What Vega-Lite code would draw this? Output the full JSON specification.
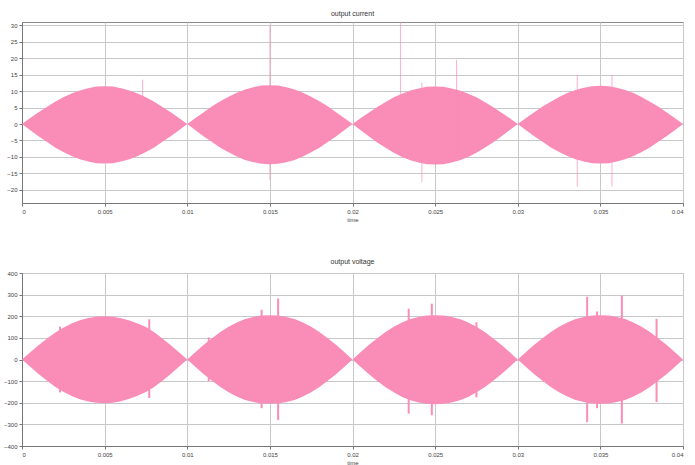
{
  "$schema": "https://vega.github.io/schema/vega-lite/v6.json",
  "autosize": {"type": "pad"},
  "padding": {"left": 2, "top": 9, "right": 10, "bottom": 0},
  "background": "white",
  "bounds": "flush",
  "spacing": 70,
  "config": {
    "font": "Liberation Sans",
    "view": {"stroke": "#888888", "strokeWidth": 1},
    "axis": {"domainColor": "#777777", "gridColor": "#c8c8c8", "tickColor": "#777777", "labelFontSize": 6, "labelColor": "#444444", "titleFontSize": 6, "titleFontWeight": "normal", "titleColor": "#444444", "tickSize": 3, "labelPadding": 2, "labelOverlap": false},
    "title": {"fontSize": 7, "fontWeight": "normal", "color": "#333333", "offset": 5}
  },
  "datasets": {
    "cur": [
      {"t":0,"hi":0,"lo":0},{"t":0.0005,"hi":1.8,"lo":-1.9},{"t":0.001,"hi":3.6,"lo":-3.7},{"t":0.0015,"hi":5.2,"lo":-5.4},{"t":0.002,"hi":6.8,"lo":-7.1},{"t":0.0025,"hi":8.1,"lo":-8.5},{"t":0.003,"hi":9.3,"lo":-9.7},{"t":0.0035,"hi":10.2,"lo":-10.7},{"t":0.004,"hi":10.9,"lo":-11.4},{"t":0.0045,"hi":11.4,"lo":-11.9},{"t":0.005,"hi":11.5,"lo":-12.0},{"t":0.0055,"hi":11.4,"lo":-11.9},{"t":0.006,"hi":10.9,"lo":-11.4},{"t":0.0065,"hi":10.2,"lo":-10.7},{"t":0.007,"hi":9.3,"lo":-9.7},{"t":0.0075,"hi":8.1,"lo":-8.5},{"t":0.008,"hi":6.8,"lo":-7.1},{"t":0.0085,"hi":5.2,"lo":-5.4},{"t":0.009,"hi":3.6,"lo":-3.7},{"t":0.0095,"hi":1.8,"lo":-1.9},
      {"t":0.01,"hi":0,"lo":0},{"t":0.0105,"hi":1.8,"lo":-1.9},{"t":0.011,"hi":3.6,"lo":-3.8},{"t":0.0115,"hi":5.4,"lo":-5.5},{"t":0.012,"hi":6.9,"lo":-7.2},{"t":0.0125,"hi":8.3,"lo":-8.6},{"t":0.013,"hi":9.5,"lo":-9.9},{"t":0.0135,"hi":10.5,"lo":-10.9},{"t":0.014,"hi":11.2,"lo":-11.6},{"t":0.0145,"hi":11.7,"lo":-12.1},{"t":0.015,"hi":11.8,"lo":-12.2},{"t":0.0155,"hi":11.7,"lo":-12.1},{"t":0.016,"hi":11.2,"lo":-11.6},{"t":0.0165,"hi":10.5,"lo":-10.9},{"t":0.017,"hi":9.5,"lo":-9.9},{"t":0.0175,"hi":8.3,"lo":-8.6},{"t":0.018,"hi":6.9,"lo":-7.2},{"t":0.0185,"hi":5.4,"lo":-5.5},{"t":0.019,"hi":3.6,"lo":-3.8},{"t":0.0195,"hi":1.8,"lo":-1.9},
      {"t":0.02,"hi":0,"lo":0},{"t":0.0205,"hi":1.8,"lo":-1.9},{"t":0.021,"hi":3.5,"lo":-3.8},{"t":0.0215,"hi":5.2,"lo":-5.6},{"t":0.022,"hi":6.7,"lo":-7.2},{"t":0.0225,"hi":8.1,"lo":-8.7},{"t":0.023,"hi":9.2,"lo":-10.0},{"t":0.0235,"hi":10.2,"lo":-11.0},{"t":0.024,"hi":10.8,"lo":-11.7},{"t":0.0245,"hi":11.3,"lo":-12.2},{"t":0.025,"hi":11.4,"lo":-12.3},{"t":0.0255,"hi":11.3,"lo":-12.2},{"t":0.026,"hi":10.8,"lo":-11.7},{"t":0.0265,"hi":10.2,"lo":-11.0},{"t":0.027,"hi":9.2,"lo":-10.0},{"t":0.0275,"hi":8.1,"lo":-8.7},{"t":0.028,"hi":6.7,"lo":-7.2},{"t":0.0285,"hi":5.2,"lo":-5.6},{"t":0.029,"hi":3.5,"lo":-3.8},{"t":0.0295,"hi":1.8,"lo":-1.9},
      {"t":0.03,"hi":0,"lo":0},{"t":0.0305,"hi":1.8,"lo":-1.9},{"t":0.031,"hi":3.6,"lo":-3.7},{"t":0.0315,"hi":5.3,"lo":-5.4},{"t":0.032,"hi":6.8,"lo":-7.1},{"t":0.0325,"hi":8.2,"lo":-8.5},{"t":0.033,"hi":9.4,"lo":-9.7},{"t":0.0335,"hi":10.3,"lo":-10.7},{"t":0.034,"hi":11.0,"lo":-11.4},{"t":0.0345,"hi":11.5,"lo":-11.9},{"t":0.035,"hi":11.6,"lo":-12.0},{"t":0.0355,"hi":11.5,"lo":-11.9},{"t":0.036,"hi":11.0,"lo":-11.4},{"t":0.0365,"hi":10.3,"lo":-10.7},{"t":0.037,"hi":9.4,"lo":-9.7},{"t":0.0375,"hi":8.2,"lo":-8.5},{"t":0.038,"hi":6.8,"lo":-7.1},{"t":0.0385,"hi":5.3,"lo":-5.4},{"t":0.039,"hi":3.6,"lo":-3.7},{"t":0.0395,"hi":1.8,"lo":-1.9},{"t":0.04,"hi":0,"lo":0}
    ],
    "curSpikes": [
      {"t":0.0073,"lo":-9,"hi":13.5},
      {"t":0.0150,"lo":-17,"hi":30},
      {"t":0.0229,"lo":-9,"hi":31},
      {"t":0.0242,"lo":-17.6,"hi":12.5},
      {"t":0.0263,"lo":-10,"hi":19.5},
      {"t":0.0336,"lo":-19,"hi":15},
      {"t":0.0357,"lo":-19,"hi":15}
    ],
    "vol": [
      {"t":0,"hi":0,"lo":0},{"t":0.0005,"hi":34,"lo":-34},{"t":0.001,"hi":66,"lo":-67},{"t":0.0015,"hi":96,"lo":-97},{"t":0.002,"hi":124,"lo":-126},{"t":0.0025,"hi":147,"lo":-149},{"t":0.003,"hi":167,"lo":-169},{"t":0.0035,"hi":182,"lo":-184},{"t":0.004,"hi":192,"lo":-194},{"t":0.0045,"hi":198,"lo":-200},{"t":0.005,"hi":200,"lo":-202},{"t":0.0055,"hi":198,"lo":-200},{"t":0.006,"hi":191,"lo":-193},{"t":0.0065,"hi":180,"lo":-182},{"t":0.007,"hi":166,"lo":-168},{"t":0.0075,"hi":150,"lo":-150},{"t":0.008,"hi":126,"lo":-127},{"t":0.0085,"hi":97,"lo":-98},{"t":0.009,"hi":66,"lo":-67},{"t":0.0095,"hi":34,"lo":-34},
      {"t":0.01,"hi":0,"lo":0},{"t":0.0105,"hi":35,"lo":-35},{"t":0.011,"hi":68,"lo":-68},{"t":0.0115,"hi":98,"lo":-98},{"t":0.012,"hi":127,"lo":-127},{"t":0.0125,"hi":151,"lo":-151},{"t":0.013,"hi":171,"lo":-171},{"t":0.0135,"hi":187,"lo":-187},{"t":0.014,"hi":197,"lo":-197},{"t":0.0145,"hi":203,"lo":-203},{"t":0.015,"hi":205,"lo":-205},{"t":0.0155,"hi":203,"lo":-203},{"t":0.016,"hi":197,"lo":-197},{"t":0.0165,"hi":187,"lo":-187},{"t":0.017,"hi":171,"lo":-171},{"t":0.0175,"hi":151,"lo":-151},{"t":0.018,"hi":127,"lo":-127},{"t":0.0185,"hi":98,"lo":-98},{"t":0.019,"hi":68,"lo":-68},{"t":0.0195,"hi":35,"lo":-35},
      {"t":0.02,"hi":0,"lo":0},{"t":0.0205,"hi":35,"lo":-35},{"t":0.021,"hi":68,"lo":-68},{"t":0.0215,"hi":98,"lo":-99},{"t":0.022,"hi":127,"lo":-128},{"t":0.0225,"hi":151,"lo":-152},{"t":0.023,"hi":171,"lo":-173},{"t":0.0235,"hi":187,"lo":-188},{"t":0.024,"hi":197,"lo":-199},{"t":0.0245,"hi":203,"lo":-205},{"t":0.025,"hi":205,"lo":-207},{"t":0.0255,"hi":203,"lo":-205},{"t":0.026,"hi":197,"lo":-199},{"t":0.0265,"hi":187,"lo":-188},{"t":0.027,"hi":171,"lo":-173},{"t":0.0275,"hi":151,"lo":-152},{"t":0.028,"hi":127,"lo":-128},{"t":0.0285,"hi":98,"lo":-99},{"t":0.029,"hi":68,"lo":-68},{"t":0.0295,"hi":35,"lo":-35},
      {"t":0.03,"hi":0,"lo":0},{"t":0.0305,"hi":35,"lo":-35},{"t":0.031,"hi":68,"lo":-68},{"t":0.0315,"hi":98,"lo":-98},{"t":0.032,"hi":127,"lo":-127},{"t":0.0325,"hi":151,"lo":-151},{"t":0.033,"hi":171,"lo":-171},{"t":0.0335,"hi":187,"lo":-187},{"t":0.034,"hi":197,"lo":-197},{"t":0.0345,"hi":203,"lo":-203},{"t":0.035,"hi":205,"lo":-205},{"t":0.0355,"hi":203,"lo":-203},{"t":0.036,"hi":197,"lo":-197},{"t":0.0365,"hi":187,"lo":-187},{"t":0.037,"hi":171,"lo":-171},{"t":0.0375,"hi":151,"lo":-151},{"t":0.038,"hi":127,"lo":-127},{"t":0.0385,"hi":98,"lo":-98},{"t":0.039,"hi":68,"lo":-68},{"t":0.0395,"hi":35,"lo":-35},{"t":0.04,"hi":0,"lo":0}
    ],
    "volSpikes": [
      {"t":0.0023,"lo":-152,"hi":152},
      {"t":0.0077,"lo":-178,"hi":186},
      {"t":0.0113,"lo":-100,"hi":102},
      {"t":0.0145,"lo":-225,"hi":230},
      {"t":0.0155,"lo":-280,"hi":282},
      {"t":0.0234,"lo":-250,"hi":235},
      {"t":0.0248,"lo":-258,"hi":258},
      {"t":0.0275,"lo":-175,"hi":172},
      {"t":0.0342,"lo":-290,"hi":290},
      {"t":0.0348,"lo":-225,"hi":222},
      {"t":0.0363,"lo":-296,"hi":296},
      {"t":0.0384,"lo":-197,"hi":188}
    ]
  },
  "vconcat": [
    {
      "title": "output current",
      "width": 661,
      "height": 181,
      "layer": [
        {
          "data": {"name": "cur"},
          "mark": {"type": "area", "color": "#F98DB8", "opacity": 1},
          "encoding": {
            "x": {"field": "t", "type": "quantitative", "scale": {"domain": [0, 0.04], "nice": false}, "axis": {"title": "time", "values": [0, 0.005, 0.01, 0.015, 0.02, 0.025, 0.03, 0.035, 0.04], "format": "~g", "titlePadding": 2}},
            "y": {"field": "hi", "type": "quantitative", "scale": {"domain": [-24, 31], "nice": false}, "axis": {"title": null, "values": [-20, -15, -10, -5, 0, 5, 10, 15, 20, 25, 30]}},
            "y2": {"field": "lo"}
          }
        },
        {
          "data": {"name": "curSpikes"},
          "mark": {"type": "rule", "color": "#F98DB8", "strokeWidth": 1, "opacity": 0.7},
          "encoding": {
            "x": {"field": "t", "type": "quantitative", "axis": {"title": "time", "values": [0, 0.005, 0.01, 0.015, 0.02, 0.025, 0.03, 0.035, 0.04], "format": "~g", "titlePadding": 2}},
            "y": {"field": "lo", "type": "quantitative", "axis": {"title": null, "values": [-20, -15, -10, -5, 0, 5, 10, 15, 20, 25, 30]}},
            "y2": {"field": "hi"}
          }
        }
      ]
    },
    {
      "title": "output voltage",
      "width": 661,
      "height": 173,
      "layer": [
        {
          "data": {"name": "vol"},
          "mark": {"type": "area", "color": "#F98DB8", "opacity": 1},
          "encoding": {
            "x": {"field": "t", "type": "quantitative", "scale": {"domain": [0, 0.04], "nice": false}, "axis": {"title": "time", "values": [0, 0.005, 0.01, 0.015, 0.02, 0.025, 0.03, 0.035, 0.04], "format": "~g", "titlePadding": 2}},
            "y": {"field": "hi", "type": "quantitative", "scale": {"domain": [-400, 400], "nice": false}, "axis": {"title": null, "values": [-400, -300, -200, -100, 0, 100, 200, 300, 400]}},
            "y2": {"field": "lo"}
          }
        },
        {
          "data": {"name": "volSpikes"},
          "mark": {"type": "rule", "color": "#F98DB8", "strokeWidth": 2},
          "encoding": {
            "x": {"field": "t", "type": "quantitative", "axis": {"title": "time", "values": [0, 0.005, 0.01, 0.015, 0.02, 0.025, 0.03, 0.035, 0.04], "format": "~g", "titlePadding": 2}},
            "y": {"field": "lo", "type": "quantitative", "axis": {"title": null, "values": [-400, -300, -200, -100, 0, 100, 200, 300, 400]}},
            "y2": {"field": "hi"}
          }
        }
      ]
    }
  ]
}
